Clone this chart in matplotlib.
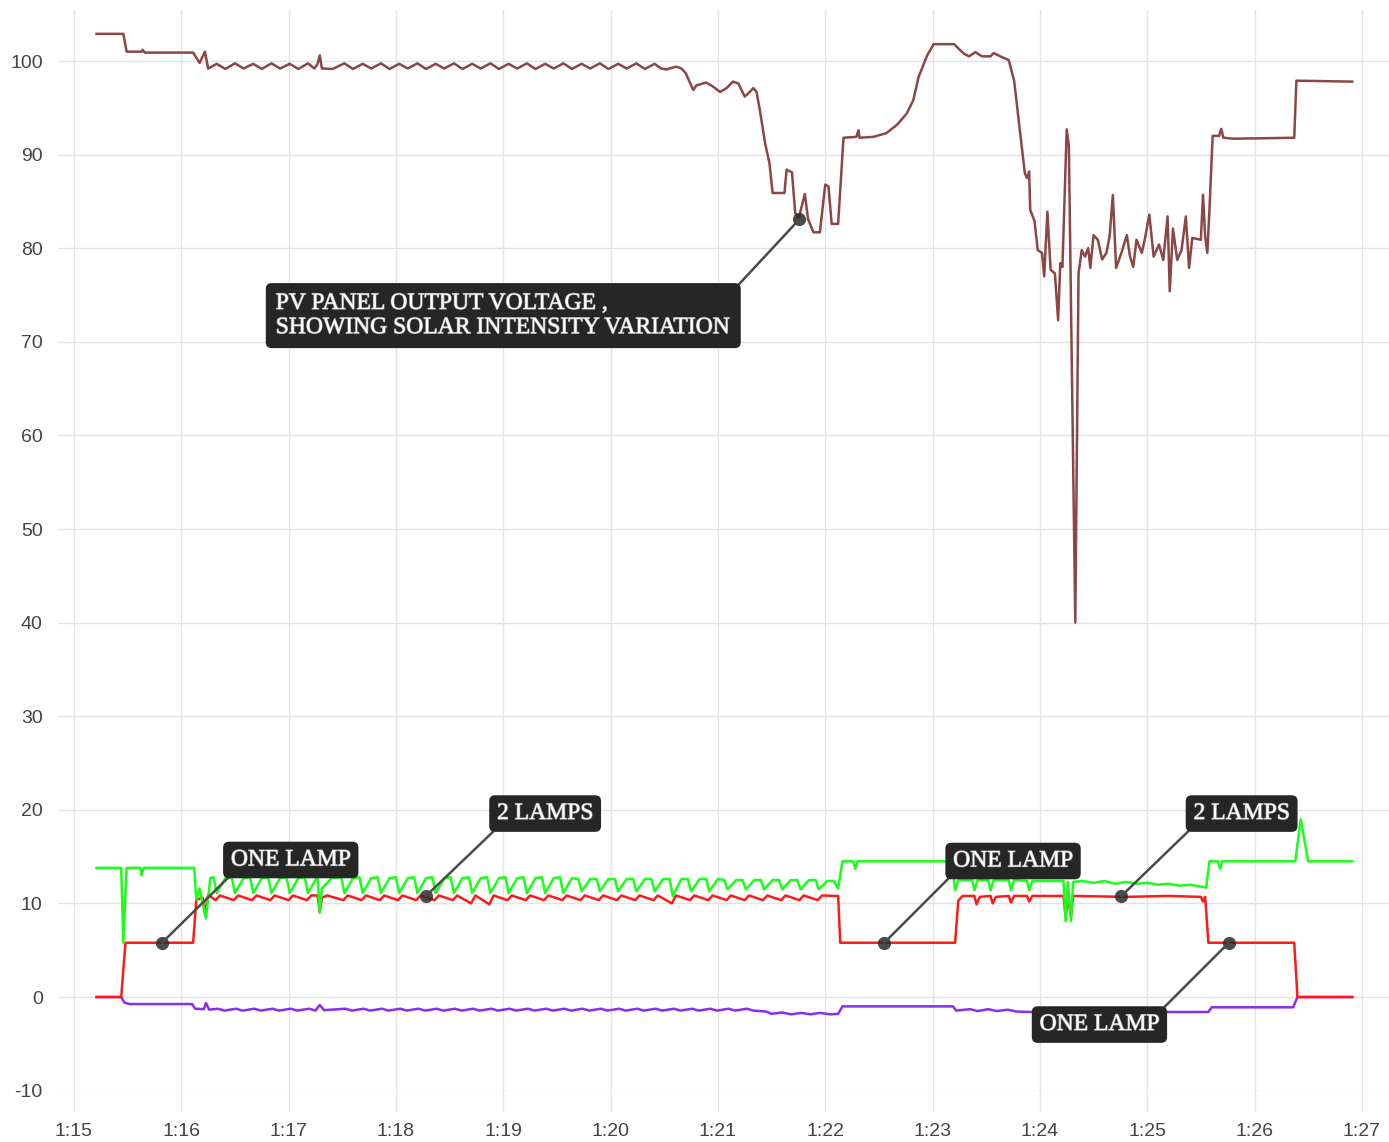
import matplotlib
matplotlib.use('Agg')
import matplotlib.pyplot as plt
import matplotlib.patheffects as pe

plt.rcParams['axes.unicode_minus'] = False

# time in minutes after 1:15, value
pv_pts = [(0.21, 102.9), (0.46, 102.9), (0.49, 101.0), (0.63, 101.0), (0.64, 101.2), (0.66, 100.9),
          (1.11, 100.9), (1.17, 99.8), (1.22, 101.0), (1.25, 99.2),
          (1.33, 99.7), (1.41, 99.15), (1.50, 99.75), (1.58, 99.2), (1.67, 99.7), (1.75, 99.15),
          (1.84, 99.75), (1.92, 99.2), (2.01, 99.7), (2.09, 99.15), (2.18, 99.75), (2.24, 99.2),
          (2.27, 99.7), (2.29, 100.6), (2.31, 99.2), (2.41, 99.15),
          (2.52, 99.75), (2.60, 99.15), (2.69, 99.7), (2.77, 99.2), (2.86, 99.75), (2.94, 99.15),
          (3.03, 99.7), (3.11, 99.2), (3.20, 99.75), (3.28, 99.15), (3.37, 99.7), (3.45, 99.2),
          (3.54, 99.75), (3.62, 99.15), (3.71, 99.7), (3.79, 99.2), (3.88, 99.75), (3.96, 99.15),
          (4.05, 99.7), (4.13, 99.2), (4.22, 99.75), (4.30, 99.15), (4.39, 99.7), (4.47, 99.2),
          (4.56, 99.75), (4.64, 99.15), (4.73, 99.7), (4.81, 99.2), (4.90, 99.75), (4.98, 99.15),
          (5.07, 99.7), (5.15, 99.2), (5.24, 99.75), (5.32, 99.15), (5.41, 99.7), (5.47, 99.2),
          (5.52, 99.1), (5.61, 99.4), (5.66, 99.2), (5.70, 98.7), (5.77, 96.9), (5.80, 97.4),
          (5.89, 97.7), (5.95, 97.3), (6.02, 96.7), (6.08, 97.1), (6.14, 97.8), (6.19, 97.6),
          (6.25, 96.2), (6.28, 96.5), (6.33, 97.1), (6.36, 96.7), (6.39, 94.8), (6.44, 91.2),
          (6.48, 89.1), (6.51, 85.9), (6.62, 85.9), (6.64, 88.4), (6.69, 88.1), (6.72, 83.8),
          (6.75, 83.1), (6.81, 85.8), (6.84, 83.1), (6.89, 81.7), (6.95, 81.7), (7.00, 86.8),
          (7.03, 86.6), (7.06, 82.6), (7.12, 82.6), (7.17, 91.8), (7.29, 91.9), (7.31, 92.6),
          (7.32, 91.8), (7.45, 91.9), (7.57, 92.3), (7.67, 93.2), (7.76, 94.4), (7.82, 95.8),
          (7.87, 98.3), (7.95, 100.6), (8.01, 101.8), (8.20, 101.8), (8.29, 100.8), (8.34, 100.5),
          (8.40, 100.95), (8.46, 100.5), (8.54, 100.5), (8.57, 100.85), (8.63, 100.5), (8.71, 100.1),
          (8.76, 97.9), (8.81, 93.0), (8.86, 88.0), (8.88, 87.5), (8.90, 88.2), (8.91, 84.1),
          (8.95, 82.9), (8.98, 79.8), (9.02, 79.5), (9.04, 77.0), (9.07, 83.9), (9.10, 77.7),
          (9.14, 77.3), (9.17, 72.3), (9.19, 78.4), (9.21, 78.0), (9.25, 92.7), (9.27, 90.9),
          (9.33, 40.0), (9.36, 77.3), (9.39, 79.8), (9.42, 79.1), (9.45, 80.0), (9.47, 77.9),
          (9.50, 81.4), (9.54, 80.9), (9.58, 78.8), (9.62, 79.5), (9.65, 81.3), (9.68, 85.7),
          (9.71, 77.9), (9.76, 79.5), (9.81, 81.4), (9.84, 79.1), (9.87, 78.0), (9.90, 80.9),
          (9.95, 79.5), (9.98, 81.1), (10.02, 83.6), (10.06, 79.1), (10.11, 80.4), (10.15, 78.75),
          (10.19, 83.4), (10.21, 75.4), (10.24, 82.1), (10.28, 78.75), (10.32, 79.8), (10.36, 83.4),
          (10.39, 77.9), (10.42, 81.1), (10.50, 80.9), (10.52, 85.7), (10.54, 81.25), (10.56, 79.5),
          (10.58, 84.1), (10.61, 92.0), (10.67, 92.0), (10.69, 92.75), (10.71, 91.8), (10.81, 91.7),
          (11.37, 91.8), (11.39, 97.9), (11.91, 97.8)]

green_pts = [(0.21, 13.8), (0.44, 13.8), (0.46, 5.8), (0.49, 13.8), (0.62, 13.8), (0.63, 13.0),
             (0.65, 13.8), (1.12, 13.8), (1.14, 10.4), (1.17, 11.6), (1.23, 8.4), (1.27, 12.7),
             (1.30, 12.8), (1.33, 11.1), (1.41, 12.7), (1.47, 12.8), (1.50, 11.1), (1.58, 12.7),
             (1.64, 12.8), (1.67, 11.1), (1.75, 12.7), (1.81, 12.8), (1.84, 11.1), (1.92, 12.7),
             (1.98, 12.8), (2.01, 11.1), (2.09, 12.7), (2.15, 12.8), (2.18, 11.1), (2.26, 12.7),
             (2.27, 12.7), (2.29, 9.0), (2.31, 11.6), (2.40, 12.7),
             (2.49, 12.8), (2.52, 11.1), (2.60, 12.7), (2.66, 12.8), (2.69, 11.1), (2.77, 12.7),
             (2.83, 12.8), (2.86, 11.1), (2.94, 12.7), (3.00, 12.8), (3.03, 11.1), (3.11, 12.7),
             (3.17, 12.8), (3.20, 11.1), (3.28, 12.7), (3.34, 12.8), (3.37, 11.1), (3.45, 12.7),
             (3.51, 12.8), (3.54, 11.1), (3.62, 12.7), (3.68, 12.8), (3.71, 11.1), (3.79, 12.7),
             (3.85, 12.8), (3.88, 11.1), (3.96, 12.7), (4.02, 12.8), (4.05, 11.1), (4.13, 12.7),
             (4.19, 12.8), (4.22, 11.1), (4.30, 12.7), (4.36, 12.8), (4.39, 11.1), (4.47, 12.7),
             (4.53, 12.8), (4.56, 11.1), (4.64, 12.7), (4.70, 12.6), (4.73, 11.3), (4.81, 12.6),
             (4.87, 12.6), (4.90, 11.3), (4.98, 12.6), (5.04, 12.6), (5.07, 11.3), (5.15, 12.6),
             (5.21, 12.6), (5.24, 11.3), (5.32, 12.6), (5.38, 12.6), (5.41, 11.3), (5.49, 12.6),
             (5.55, 12.6), (5.58, 10.8), (5.66, 12.6), (5.72, 12.6), (5.75, 11.3), (5.83, 12.6),
             (5.89, 12.6), (5.92, 11.3), (6.00, 12.6), (6.06, 12.5), (6.09, 11.5), (6.17, 12.5),
             (6.23, 12.5), (6.26, 11.5), (6.34, 12.5), (6.40, 12.5), (6.43, 11.5), (6.51, 12.5),
             (6.57, 12.5), (6.60, 11.5), (6.68, 12.5), (6.74, 12.5), (6.77, 11.5), (6.85, 12.5),
             (6.91, 12.5), (6.94, 11.5), (7.02, 12.4),
             (7.08, 12.4), (7.12, 11.6), (7.16, 14.5), (7.26, 14.5), (7.28, 13.7), (7.30, 14.5),
             (8.18, 14.5), (8.21, 11.4), (8.24, 12.5), (8.37, 12.5), (8.39, 11.4), (8.42, 12.5),
             (8.52, 12.5), (8.54, 11.4), (8.57, 12.5), (8.71, 12.5), (8.73, 11.4), (8.76, 12.5),
             (8.88, 12.4), (8.90, 11.4), (8.93, 12.4), (9.22, 12.4), (9.24, 8.1), (9.26, 12.3),
             (9.29, 8.1), (9.31, 12.3), (9.40, 12.4), (9.50, 12.2), (9.60, 12.4), (9.70, 12.1),
             (9.80, 12.3), (9.90, 12.1), (10.00, 12.2), (10.10, 12.0), (10.20, 12.1), (10.30, 11.9),
             (10.40, 12.0), (10.50, 11.8), (10.55, 11.7), (10.58, 14.5), (10.66, 14.5), (10.68, 13.7),
             (10.70, 14.5), (11.38, 14.5), (11.43, 19.0), (11.50, 14.5), (11.91, 14.5)]

red_pts = [(0.21, 0.0), (0.44, 0.0), (0.48, 5.8), (1.11, 5.8), (1.14, 10.4), (1.20, 10.6),
           (1.22, 8.9), (1.25, 10.9),
           (1.32, 10.35), (1.36, 10.85), (1.49, 10.35), (1.53, 10.85), (1.66, 10.35), (1.70, 10.85),
           (1.83, 10.35), (1.87, 10.85), (2.00, 10.35), (2.04, 10.85), (2.17, 10.35), (2.21, 10.85),
           (2.27, 10.85), (2.29, 9.1), (2.31, 10.6), (2.36, 10.85),
           (2.51, 10.35), (2.55, 10.85), (2.68, 10.35), (2.72, 10.85), (2.85, 10.35), (2.89, 10.85),
           (3.02, 10.35), (3.06, 10.85), (3.19, 10.35), (3.23, 10.85), (3.36, 10.35), (3.40, 10.85),
           (3.53, 10.35), (3.57, 10.85), (3.70, 10.0), (3.74, 10.85), (3.87, 9.9), (3.91, 10.85),
           (4.04, 10.35), (4.08, 10.85), (4.21, 10.35), (4.25, 10.85), (4.38, 10.35), (4.42, 10.85),
           (4.55, 10.35), (4.59, 10.85), (4.72, 10.35), (4.76, 10.85), (4.89, 10.35), (4.93, 10.85),
           (5.06, 10.35), (5.10, 10.85), (5.23, 10.35), (5.27, 10.85), (5.40, 10.35), (5.44, 10.85),
           (5.57, 10.0), (5.61, 10.85), (5.74, 10.35), (5.78, 10.85), (5.91, 10.35), (5.95, 10.85),
           (6.08, 10.35), (6.12, 10.85), (6.25, 10.35), (6.29, 10.85), (6.42, 10.35), (6.46, 10.85),
           (6.59, 10.35), (6.63, 10.85), (6.76, 10.35), (6.80, 10.85), (6.93, 10.35), (6.97, 10.85),
           (7.08, 10.8), (7.12, 10.8), (7.14, 5.8), (8.21, 5.8), (8.24, 10.3), (8.28, 10.8),
           (8.39, 10.8), (8.41, 9.9), (8.44, 10.7), (8.54, 10.8), (8.56, 10.0), (8.59, 10.7),
           (8.71, 10.8), (8.73, 10.1), (8.76, 10.8), (8.88, 10.8), (8.90, 10.2), (8.93, 10.8),
           (9.22, 10.8), (9.24, 8.6), (9.26, 10.7), (9.29, 8.6), (9.31, 10.8), (9.80, 10.7),
           (10.20, 10.8), (10.50, 10.7), (10.52, 10.2), (10.54, 10.7), (10.57, 5.8), (11.37, 5.8),
           (11.40, 0.0), (11.91, 0.0)]

purple_pts = [(0.21, 0.0), (0.44, 0.0), (0.47, -0.6), (0.52, -0.75), (1.10, -0.75), (1.13, -1.25),
              (1.21, -1.3), (1.23, -0.65), (1.26, -1.35),
              (1.34, -1.25), (1.40, -1.45), (1.51, -1.25), (1.57, -1.45), (1.68, -1.25), (1.74, -1.45),
              (1.85, -1.25), (1.91, -1.45), (2.02, -1.25), (2.08, -1.45), (2.19, -1.25), (2.25, -1.45),
              (2.29, -0.85), (2.33, -1.4),
              (2.53, -1.25), (2.59, -1.45), (2.70, -1.25), (2.76, -1.45), (2.87, -1.25), (2.93, -1.45),
              (3.04, -1.25), (3.10, -1.45), (3.21, -1.25), (3.27, -1.45), (3.38, -1.25), (3.44, -1.45),
              (3.55, -1.25), (3.61, -1.45), (3.72, -1.25), (3.78, -1.45), (3.89, -1.25), (3.95, -1.45),
              (4.06, -1.25), (4.12, -1.45), (4.23, -1.25), (4.29, -1.45), (4.40, -1.25), (4.46, -1.45),
              (4.57, -1.25), (4.63, -1.45), (4.74, -1.25), (4.80, -1.45), (4.91, -1.25), (4.97, -1.45),
              (5.08, -1.25), (5.14, -1.45), (5.25, -1.25), (5.31, -1.45), (5.42, -1.25), (5.48, -1.45),
              (5.59, -1.25), (5.65, -1.45), (5.76, -1.25), (5.82, -1.45), (5.93, -1.25), (5.99, -1.45),
              (6.10, -1.25), (6.16, -1.45), (6.27, -1.25), (6.33, -1.45),
              (6.45, -1.55), (6.50, -1.8), (6.60, -1.65), (6.68, -1.85), (6.78, -1.7), (6.86, -1.85),
              (6.95, -1.7), (7.05, -1.85), (7.12, -1.8), (7.16, -1.0), (8.19, -1.0), (8.22, -1.45),
              (8.35, -1.3), (8.42, -1.5), (8.52, -1.3), (8.60, -1.5), (8.70, -1.35), (8.78, -1.55),
              (8.92, -1.6), (10.57, -1.6), (10.60, -1.1), (11.36, -1.1), (11.40, 0.0), (11.91, 0.0)]

tick_labels = ['1:15', '1:16', '1:17', '1:18', '1:19', '1:20', '1:21',
               '1:22', '1:23', '1:24', '1:25', '1:26', '1:27']
y_ticks = [-10, 0, 10, 20, 30, 40, 50, 60, 70, 80, 90, 100]

# annotations: point on curve and label text
ann_t = [6.76, 0.82, 3.28, 7.55, 9.76, 10.76]
ann_v = [83.1, 5.8, 10.8, 5.8, 10.8, 5.8]
ann_text = ['PV PANEL OUTPUT VOLTAGE ,\nSHOWING SOLAR INTENSITY VARIATION',
            'ONE LAMP', '2 LAMPS', 'ONE LAMP', '2 LAMPS', 'ONE LAMP']
# label box centres and where the connector leaves the box
ann_pos = [(4.00, 72.8), (2.02, 14.64), (4.39, 19.6), (8.75, 14.53), (10.88, 19.6), (9.555, -2.94)]
ann_rel = [(1.0, 1.0), (0.06, 0.12), (0.07, 0.12), (0.04, 0.12), (0.05, 0.12), (0.97, 0.92)]

fig = plt.figure(figsize=(13.89, 11.42), dpi=100)
ax = fig.add_axes([58/1389, 51/1142, 1331/1389, 1081/1142])

lw = 1.8
ax.plot(*zip(*pv_pts), color='#8b4646', lw=lw, zorder=3)
ax.plot(*zip(*purple_pts), color='#8a2cf2', lw=lw, zorder=3)
ax.plot(*zip(*red_pts), color='#ff1a1a', lw=lw, zorder=3)
ax.plot(*zip(*green_pts), color='#1aff1a', lw=lw, zorder=3)

ax.plot(ann_t, ann_v, 'o', ms=9.5, color='#2b2b2b', alpha=0.85, zorder=5, mec='none')

for i, (t, v, txt, pos, rel) in enumerate(zip(ann_t, ann_v, ann_text, ann_pos, ann_rel)):
    pad = 0.42 if i == 0 else 0.33
    ax.annotate(txt, xy=(t, v), xytext=pos, ha='center', va='center',
                fontsize=17, family='Liberation Serif', color='white',
                multialignment='left', linespacing=1.2, zorder=6,
                path_effects=[pe.withStroke(linewidth=0.9, foreground='#a0a0a0')],
                bbox=dict(boxstyle='round,pad=%.2f,rounding_size=0.25' % pad, fc='#262626', ec='none'),
                arrowprops=dict(arrowstyle='-', color='#4a4a4a', lw=1.8, relpos=rel,
                                shrinkA=0, shrinkB=0))

ax.set_xlim(-0.149, 12.253)
ax.set_ylim(-10.04, 105.45)
ax.set_xticks(range(13))
ax.set_xticklabels(tick_labels)
ax.set_yticks(y_ticks)
for s in ax.spines.values():
    s.set_visible(False)
ax.grid(color='#e3e3e3', lw=1.0, zorder=0)
ax.set_axisbelow(True)
ax.tick_params(axis='x', length=15, width=1.0, color='#e3e3e3', pad=8,
               labelsize=14, labelcolor='#444444')
ax.tick_params(axis='y', length=0, pad=11, labelsize=14, labelcolor='#444444')
for lab in ax.get_xticklabels() + ax.get_yticklabels():
    lab.set_family('Liberation Sans')

fig.savefig('out.png', dpi=100)
